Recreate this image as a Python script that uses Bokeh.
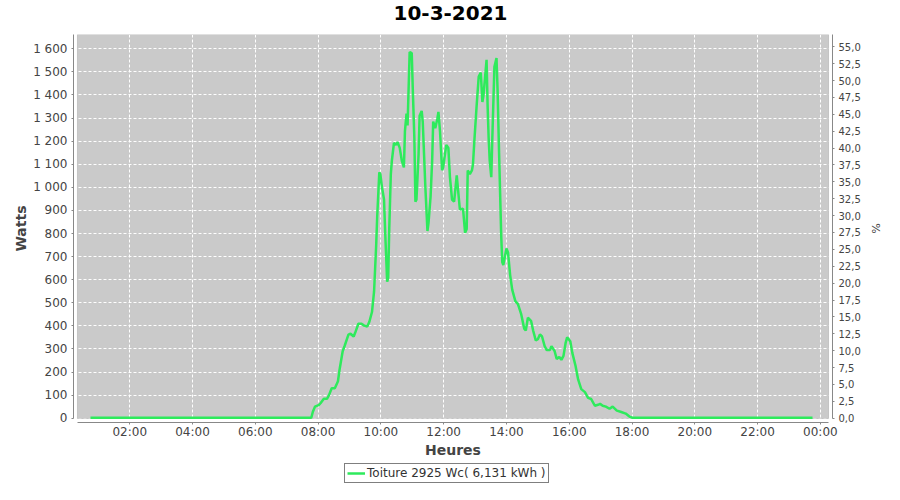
from bokeh.plotting import figure
from bokeh.layouts import column
from bokeh.models import (Range1d, LinearAxis, FixedTicker, BoxAnnotation, Legend,
                          LegendItem, Label)
from bokeh.embed import file_html
from bokeh.resources import INLINE

# ---------------- data ----------------
title_text = "10-3-2021"
series_name = "Toiture 2925 Wc( 6,131 kWh )"
peak_power_w = 2925

times = ["00:45", "01:30", "02:30", "03:30", "04:30", "05:30", "06:30", "07:30", "07:47",
         "07:50", "07:54", "08:02", "08:05", "08:11", "08:17", "08:21", "08:26", "08:32",
         "08:38", "08:41", "08:47", "08:51", "08:58", "09:02", "09:08", "09:11", "09:17",
         "09:23", "09:28", "09:34", "09:38", "09:43", "09:47", "09:51", "09:53", "09:57",
         "09:59", "10:02", "10:06", "10:08", "10:12", "10:14", "10:16", "10:19", "10:21",
         "10:25", "10:29", "10:32", "10:36", "10:40", "10:44", "10:46", "10:49", "10:51",
         "10:55", "10:59", "11:01", "11:04", "11:06", "11:08", "11:12", "11:14", "11:18",
         "11:20", "11:23", "11:25", "11:29", "11:31", "11:35", "11:38", "11:40", "11:44",
         "11:48", "11:50", "11:53", "11:57", "11:59", "12:05", "12:09", "12:12", "12:16",
         "12:20", "12:25", "12:27", "12:31", "12:37", "12:41", "12:44", "12:46", "12:50",
         "12:54", "12:56", "12:59", "13:03", "13:07", "13:11", "13:14", "13:16", "13:22",
         "13:24", "13:26", "13:28", "13:31", "13:33", "13:37", "13:41", "13:43", "13:46",
         "13:50", "13:52", "13:54", "14:00", "14:03", "14:07", "14:11", "14:17", "14:22",
         "14:28", "14:34", "14:37", "14:41", "14:47", "14:51", "14:56", "15:00", "15:04",
         "15:08", "15:13", "15:17", "15:23", "15:26", "15:32", "15:36", "15:41", "15:45",
         "15:49", "15:53", "15:56", "16:02", "16:06", "16:12", "16:17", "16:23", "16:30",
         "16:36", "16:42", "16:49", "16:55", "16:59", "17:04", "17:10", "17:17", "17:23",
         "17:31", "17:38", "17:48", "17:55", "18:01", "19:00", "20:00", "21:00", "22:00",
         "23:00", "23:45"]

watts = [2, 2, 2, 2, 2, 2, 2, 2, 2,
         28, 50, 58, 66, 84, 84, 101, 130, 130,
         160, 210, 290, 315, 362, 366, 354, 371, 409,
         409, 401, 397, 418, 460, 549, 748, 875, 1065,
         1057, 1002, 947, 820, 591, 608, 820, 1057, 1116,
         1192, 1184, 1196, 1171, 1116, 1086, 1243, 1319, 1268,
         1586, 1581, 1425, 1213, 938, 947, 1141, 1310, 1331,
         1285, 1116, 1002, 811, 845, 960, 1116, 1285, 1256,
         1298, 1327, 1243, 1074, 1086, 1184, 1171, 1044, 947,
         938, 1052, 1002, 904, 908, 803, 819, 1073, 1057,
         1073, 1099, 1213, 1353, 1480, 1497, 1370, 1395, 1552,
         1353, 1213, 1116, 1044, 1213, 1522, 1560, 1425, 1141,
         790, 676, 663, 735, 718, 621, 557, 507, 494,
         452, 388, 380, 435, 422, 380, 337, 342, 363,
         354, 312, 295, 295, 312, 291, 257, 265, 253,
         270, 325, 350, 333, 282, 227, 168, 126, 113,
         88, 83, 54, 58, 62, 54, 50, 41, 50,
         33, 28, 20, 7, 2, 2, 2, 2, 2,
         2, 2]

x_tick_hours = [2, 4, 6, 8, 10, 12, 14, 16, 18, 20, 22, 24]
x_tick_labels = ["02:00", "04:00", "06:00", "08:00", "10:00", "12:00",
                 "14:00", "16:00", "18:00", "20:00", "22:00", "00:00"]

w_ticks = [0, 100, 200, 300, 400, 500, 600, 700, 800, 900, 1000,
           1100, 1200, 1300, 1400, 1500, 1600]
w_tick_labels = ["0", "100", "200", "300", "400", "500", "600", "700", "800", "900",
                 "1 000", "1 100", "1 200", "1 300", "1 400", "1 500", "1 600"]

pct_ticks = [0.0, 2.5, 5.0, 7.5, 10.0, 12.5, 15.0, 17.5, 20.0, 22.5, 25.0, 27.5,
             30.0, 32.5, 35.0, 37.5, 40.0, 42.5, 45.0, 47.5, 50.0, 52.5, 55.0]
pct_tick_labels = ["0,0", "2,5", "5,0", "7,5", "10,0", "12,5", "15,0", "17,5", "20,0",
                   "22,5", "25,0", "27,5", "30,0", "32,5", "35,0", "37,5", "40,0",
                   "42,5", "45,0", "47,5", "50,0", "52,5", "55,0"]

# ---------------- layout ----------------
hours = [int(t[:2]) + int(t[3:]) / 60.0 for t in times]

FONT = "DejaVu Sans"
TXT = "#444444"
W = 884

box_x0, box_x1 = 0.335, 24.26      # plot area (hours)
box_y0, y_top = -1.3, 1662.0       # plot area (watts)
x_gap = 0.1263                     # 4 px axis offset
y_gap = 17.3


def strip(height):
    s = figure(width=W, height=height, output_backend="svg", toolbar_location=None,
               x_range=Range1d(0, 1), y_range=Range1d(0, 1),
               x_axis_type=None, y_axis_type=None, min_border=0,
               background_fill_color="white", border_fill_color="white",
               outline_line_color=None)
    s.xgrid.visible = False
    s.ygrid.visible = False
    return s


# ---------------- title strip ----------------
ts = strip(28)
ts.add_layout(Label(x=377, y=16, x_units="screen", y_units="screen", text=title_text,
                    text_align="center", text_baseline="alphabetic",
                    text_font=FONT, text_font_size="20px", text_font_style="bold",
                    text_color="black"))

# ---------------- main plot ----------------
p = figure(width=W, height=434, output_backend="svg", toolbar_location=None,
           x_range=Range1d(box_x0 - x_gap, box_x1 + x_gap),
           y_range=Range1d(box_y0 - y_gap, y_top),
           min_border_left=73, min_border_right=45, min_border_top=6, min_border_bottom=40,
           background_fill_color="white", border_fill_color="white",
           outline_line_color=None)

to_pct = 100.0 / peak_power_w
p.extra_y_ranges = {"pct": Range1d((box_y0 - y_gap) * to_pct, y_top * to_pct)}

bg = BoxAnnotation(left=box_x0, right=box_x1, bottom=box_y0, top=y_top,
                   fill_color="#cacaca", fill_alpha=1.0, line_color=None, level="image")
p.add_layout(bg)

p.xgrid.ticker = FixedTicker(ticks=x_tick_hours, minor_ticks=[])
for g in (p.xgrid, p.ygrid):
    g.grid_line_color = "white"
    g.grid_line_dash = "3 2"
    g.grid_line_width = 1

outline = BoxAnnotation(left=box_x0, right=box_x1, bottom=box_y0, top=y_top,
                        fill_alpha=0.0, line_color="#7a7a7a", line_width=1, level="underlay")
p.add_layout(outline)

LINE_COLOR = "#2eea5c"
r = p.line(hours, watts, line_color=LINE_COLOR, line_width=2.5)


def style_axis(ax, font_size="12px"):
    ax.axis_line_color = "#888888"
    ax.major_tick_line_color = "#888888"
    ax.major_tick_out = 2
    ax.major_tick_in = 0
    ax.minor_tick_line_color = None
    ax.major_label_text_font = FONT
    ax.major_label_text_font_size = font_size
    ax.major_label_text_color = TXT
    ax.axis_label_text_font = FONT
    ax.axis_label_text_color = TXT


xa = p.xaxis[0]
xa.ticker = FixedTicker(ticks=x_tick_hours, minor_ticks=[])
xa.major_label_overrides = dict(zip(x_tick_hours, x_tick_labels))
xa.bounds = (box_x0, box_x1)
style_axis(xa)
xa.major_label_standoff = 0
xa.axis_label = "Heures"
xa.axis_label_text_font_size = "14px"
xa.axis_label_text_font_style = "bold"
xa.axis_label_standoff = 0

ya = p.yaxis[0]
ya.ticker = FixedTicker(ticks=w_ticks, minor_ticks=[])
ya.major_label_overrides = dict(zip(w_ticks, w_tick_labels))
ya.bounds = (box_y0, y_top)
style_axis(ya)
ya.major_label_standoff = 4
ya.axis_label = "Watts"
ya.axis_label_text_font_size = "14px"
ya.axis_label_text_font_style = "bold"
ya.axis_label_standoff = 1

ra = LinearAxis(y_range_name="pct", ticker=FixedTicker(ticks=pct_ticks, minor_ticks=[]),
                major_label_overrides=dict(zip(pct_ticks, pct_tick_labels)),
                axis_label="%")
ra.bounds = (box_y0 * to_pct, y_top * to_pct)
style_axis(ra, "10px")
ra.major_label_standoff = 4
ra.axis_label_text_font_size = "11px"
ra.axis_label_text_font_style = "normal"
ra.axis_label_standoff = 5
p.add_layout(ra, "right")

# ---------------- legend strip ----------------
lg = strip(22)
# legend key only: its points lie outside the visible range of this strip
lr = lg.line(x=[-2.0, -1.0], y=[-2.0, -2.0], line_color=LINE_COLOR, line_width=2.5)

legend = Legend(items=[LegendItem(label=series_name, renderers=[lr])],
                location=(271, 1), orientation="horizontal",
                border_line_color="black", border_line_width=1,
                background_fill_color="white", background_fill_alpha=1.0,
                padding=2, margin=0, spacing=0,
                glyph_width=18, glyph_height=14, label_standoff=2,
                label_text_font=FONT, label_text_font_size="12px",
                label_text_color="#333333")
lg.add_layout(legend, "center")

page = column(ts, p, lg, spacing=0)
open("out.html", "w").write(file_html(page, INLINE))
